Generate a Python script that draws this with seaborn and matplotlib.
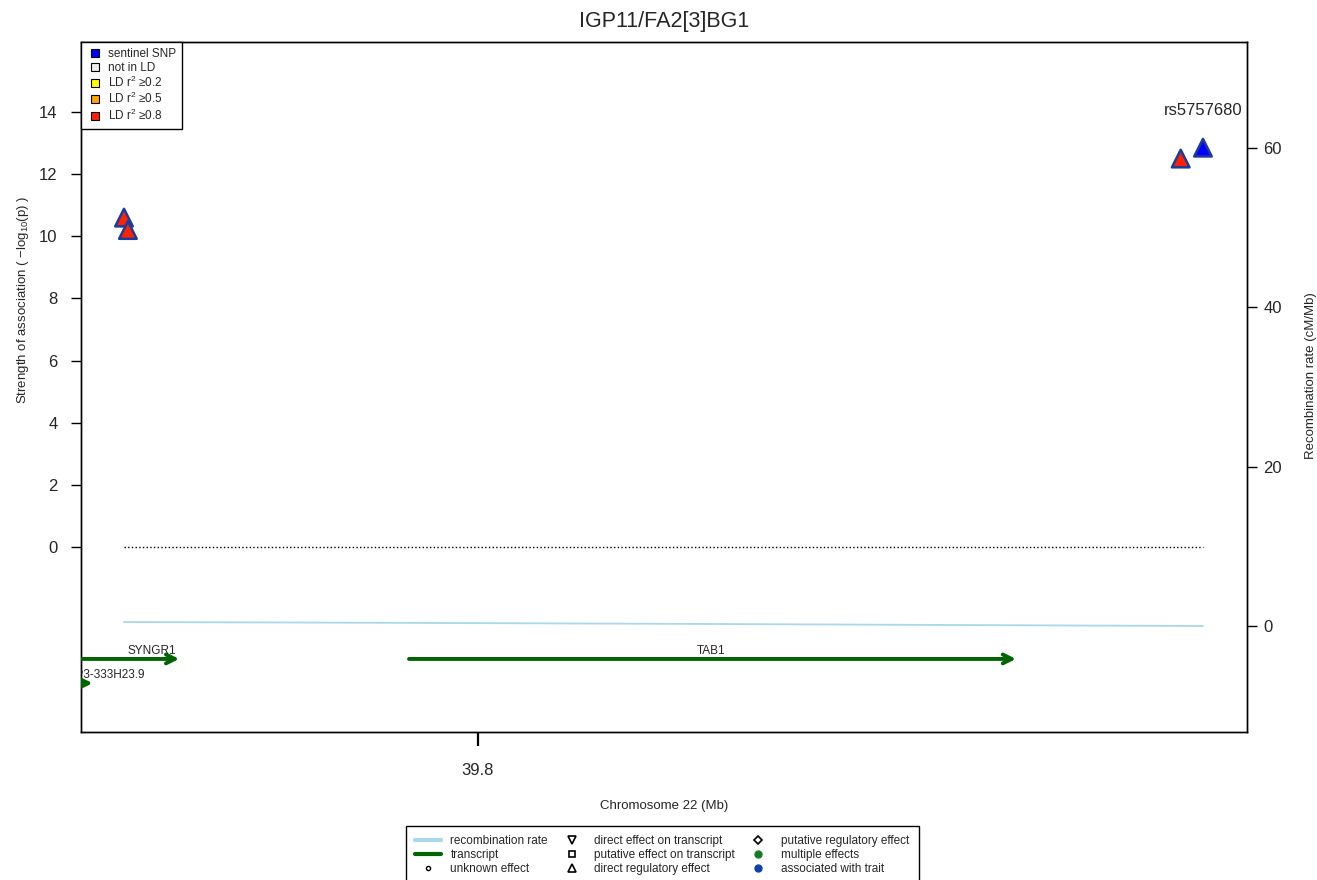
import numpy as np
import pandas as pd
import matplotlib
matplotlib.use('Agg')
from matplotlib import pyplot as plt
from matplotlib.lines import Line2D
import seaborn as sns

# SNPs (position in Mb, -log10 p, LD group)
snp_pos = [39.77819, 39.77843, 39.84330, 39.84467]
snp_logp = [10.6, 10.2, 12.5, 12.85]
snp_ld = ['r08', 'r08', 'r08', 'sentinel']
sentinel_name = 'rs5757680'

# recombination rate (cM/Mb)
rec_pos = [39.77819, 39.79500, 39.81500, 39.83000, 39.84467]
rec_rate = [0.5, 0.4, 0.25, 0.12, 0.0]

# genes
gene_names = ['SYNGR1', 'TAB1', 'RP3-333H23.9']
gene_start = [39.7459, 39.79575, 39.7700]
gene_end = [39.78159, 39.83315, 39.77625]
gene_row = [-3.6, -3.6, -4.38]
gene_label_x = [39.77991, 39.81436, 39.77708]

ld_colors = {'sentinel': '#0000ff', 'none': '#eeeeee', 'r02': '#ffff00',
             'r05': '#ffa500', 'r08': '#ff2200'}
ld_labels = ['sentinel SNP', 'not in LD', r'LD r$^2$ ≥0.2', r'LD r$^2$ ≥0.5', r'LD r$^2$ ≥0.8']

sns.set_theme(style='ticks')
plt.rcParams['font.family'] = ['Liberation Sans', 'DejaVu Sans']
plt.rcParams['mathtext.fontset'] = 'custom'
plt.rcParams['mathtext.rm'] = 'Liberation Sans'
plt.rcParams['mathtext.it'] = 'Liberation Sans'

snps = pd.DataFrame({'pos': snp_pos, 'logp': snp_logp, 'ld': snp_ld})
rec = pd.DataFrame({'pos': rec_pos, 'rate': rec_rate})

fig = plt.figure(figsize=(13.17, 8.8), dpi=100)
ax = fig.add_axes([0.0615, 0.1682, 0.8853, 0.7841])
ax2 = ax.twinx()

sns.lineplot(data=rec, x='pos', y='rate', ax=ax2, color='#a8d8ea', lw=1.3)
ax2.set_ylim(-13.3, 73.3)
ax2.set_yticks([0, 20, 40, 60])
ax2.set_ylabel('Recombination rate (cM/Mb)', fontsize=9.5)
ax2.yaxis.set_label_coords(1.050, 0.517)
ax2.tick_params(axis='y', labelsize=12, length=7, width=1, pad=5, color='black')

ax.set_zorder(ax2.get_zorder() + 1)
ax.patch.set_visible(False)

ax.hlines(0, min(snp_pos), max(snp_pos), colors='black', linestyles=':', lw=1)

sns.scatterplot(data=snps, x='pos', y='logp', hue='ld', palette=ld_colors, marker='^',
                s=160, edgecolor='#1c3c9c', linewidth=1.8, legend=False, ax=ax, zorder=5)

i_sent = snp_ld.index('sentinel')
ax.text(snp_pos[i_sent], 14.03, sentinel_name, ha='center', va='center', fontsize=12)

for name, s, e, r, lx in zip(gene_names, gene_start, gene_end, gene_row, gene_label_x):
    ann = ax.annotate('', xy=(e, r), xytext=(s, r),
                      arrowprops=dict(arrowstyle='->', color='#006400', lw=2.8, mutation_scale=16,
                                      shrinkA=0, shrinkB=0), annotation_clip=False)
    ann.arrow_patch.set_clip_on(True)
    ann.arrow_patch.set_clip_path(ax.patch)
    ax.text(lx, r + 0.25, name, ha='center', va='center', fontsize=8.5, clip_on=True)

ax.set_xlim(39.77554, 39.84738)
ax.set_ylim(-5.95, 16.25)
ax.set_yticks(range(0, 15, 2))
ax.set_xticks([39.8])
ax.set_xticklabels(['39.8'])
ax.tick_params(axis='y', labelsize=12, length=7, width=1, pad=10, color='black')
ax.tick_params(axis='x', labelsize=12, length=10, width=1.6, pad=12, color='black')
ax.set_xlabel('Chromosome 22 (Mb)', fontsize=9.5, labelpad=16)
ax.set_ylabel(r'Strength of association ( $-$log$_{10}$(p) )', fontsize=9.5)
ax.yaxis.set_label_coords(-0.043, 0.626)
for a in (ax, ax2):
    for sp in a.spines.values():
        sp.set_visible(True)
        sp.set_color('black')
        sp.set_linewidth(1)

ax.set_title('IGP11/FA2[3]BG1', fontsize=15.5, pad=11)

# LD legend
ld_handles = [Line2D([], [], ls='', marker='s', markersize=6, markerfacecolor=ld_colors[k],
                     markeredgecolor='black', markeredgewidth=0.8)
              for k in ['sentinel', 'none', 'r02', 'r05', 'r08']]
leg1 = ax.legend(ld_handles, ld_labels, loc='upper left', borderaxespad=0, fontsize=8.5,
                 frameon=True, fancybox=False, edgecolor='black', framealpha=1,
                 handletextpad=0.5, labelspacing=0.1, borderpad=0.55, handlelength=1.2)
leg1.get_frame().set_linewidth(1)

# annotation legend
key_handles = [
    Line2D([], [], color='#a8d8ea', lw=3),
    Line2D([], [], color='#006400', lw=3),
    Line2D([], [], ls='', marker='o', markersize=3, markerfacecolor='white', markeredgecolor='black'),
    Line2D([], [], ls='', marker='v', markersize=6, markerfacecolor='white', markeredgecolor='black', markeredgewidth=1.2),
    Line2D([], [], ls='', marker='s', markersize=4.5, markerfacecolor='white', markeredgecolor='black', markeredgewidth=1.2),
    Line2D([], [], ls='', marker='^', markersize=6, markerfacecolor='white', markeredgecolor='black', markeredgewidth=1.2),
    Line2D([], [], ls='', marker='D', markersize=4.5, markerfacecolor='white', markeredgecolor='black', markeredgewidth=1.2),
    Line2D([], [], ls='', marker='o', markersize=5, color='#1a7a2a'),
    Line2D([], [], ls='', marker='o', markersize=5, color='#1040b0'),
]
key_labels = ['recombination rate', 'transcript', 'unknown effect',
              'direct effect on transcript', 'putative effect on transcript', 'direct regulatory effect',
              'putative regulatory effect', 'multiple effects', 'associated with trait']
leg2 = fig.legend(key_handles, key_labels, loc='upper left', bbox_to_anchor=(0.308, 0.0614),
                  ncol=3, fontsize=8.5, frameon=True, fancybox=False, edgecolor='black',
                  framealpha=1, handlelength=2.2, handletextpad=0.8, columnspacing=0.9,
                  labelspacing=0.15, borderpad=0.8, borderaxespad=0)
leg2.get_frame().set_linewidth(1)

fig.savefig('out.png', dpi=100)
